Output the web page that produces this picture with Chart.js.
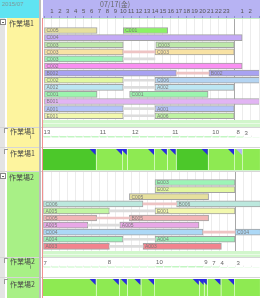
<!DOCTYPE html>
<html>
<head>
<meta charset="utf-8">
<script src="https://cdn.jsdelivr.net/npm/chart.js@4.4.0/dist/chart.umd.min.js"></script>
<style>
  html,body{margin:0;padding:0;background:#fff;}
  body{width:260px;height:298px;position:relative;overflow:hidden;font-family:"Noto Sans CJK JP","Noto Sans",sans-serif;}
  .abs{position:absolute;}
  canvas{position:absolute;}
  .lbl{position:absolute;left:9px;font-size:7px;line-height:8px;color:#4a4a4a;white-space:nowrap;}
  .box{position:absolute;left:0;width:4px;height:4px;border:1px solid #8a8a8a;background:#fff;}
  .box:after{content:"";position:absolute;left:1px;top:2px;width:2px;height:1px;background:#666;}
  .brk{position:absolute;left:4px;width:3px;height:4px;border-left:1px solid #999;border-top:1px solid #999;}
  .sep{position:absolute;left:0;width:260px;height:1px;background:#d6d6d6;}
</style>
</head>
<body>
<!-- panneau gauche -->
<div class="abs" style="left:0;top:0;width:39px;height:18px;background:#5fe4f2"></div>
<div class="abs" style="left:2px;top:0;font-size:6px;line-height:8px;color:#7d9a9a;font-family:'Liberation Sans'">2015/07</div>
<div class="abs" style="left:0;top:18px;width:5px;height:280px;background:#e4e4e4"></div>
<div class="abs" style="left:7px;top:18px;width:32px;height:153px;background:#fdf49e"></div>
<div class="abs" style="left:7px;top:172px;width:32px;height:126px;background:#a8f086"></div>

<div class="abs" style="left:43px;top:120px;width:217px;height:7px;background:#d2f6cc"></div>
<div class="abs" style="left:43px;top:123px;width:217px;height:1px;background:#eafbe6"></div>
<div class="abs" style="left:43px;top:170px;width:217px;height:2px;background:#d2f6cc"></div>
<div class="abs" style="left:43px;top:251px;width:217px;height:6px;background:#d2f6cc"></div>
<div class="abs" style="left:43px;top:254px;width:217px;height:1px;background:#eafbe6"></div>

<div class="sep" style="top:127px"></div>
<div class="sep" style="top:147px"></div>
<div class="sep" style="top:171px"></div>
<div class="sep" style="top:257px"></div>
<div class="sep" style="top:277px"></div>

<canvas id="g1" width="217" height="120" style="left:43px;top:0"></canvas>
<canvas id="ld1" width="230" height="17" style="left:30px;top:128px"></canvas>
<canvas id="sm1" width="217" height="21" style="left:43px;top:149px"></canvas>
<canvas id="g2" width="217" height="79" style="left:43px;top:172px"></canvas>
<canvas id="ld2" width="230" height="17" style="left:30px;top:258px"></canvas>
<canvas id="sm2" width="217" height="17" style="left:43px;top:279px"></canvas>

<div class="abs" style="left:100px;top:0;font-size:7px;line-height:8px;color:#666">07/17(金)</div>
<div class="abs" style="left:43px;top:18px;width:217px;height:1px;background:#c8eec8"></div>
<div class="abs" style="left:39px;top:0;width:2px;height:298px;background:#bdbdbd"></div>
<div class="abs" style="left:42px;top:18px;width:1px;height:280px;background:#f29090"></div>

<div class="box" style="top:19px"></div>
<div class="box" style="top:173px"></div>
<div class="brk" style="top:128px"></div>
<div class="brk" style="top:149px"></div>
<div class="brk" style="top:258px"></div>
<div class="brk" style="top:279px"></div>
<div class="lbl" style="top:19px">作業場1</div>
<div class="lbl" style="top:127px;left:10px">作業場1</div>
<div class="lbl" style="top:149px;left:10px">作業場1</div>
<div class="lbl" style="top:173px">作業場2</div>
<div class="lbl" style="top:257px;left:10px">作業場2</div>
<div class="lbl" style="top:280px;left:10px">作業場2</div>

<script>
// ===== Données =====
const HOUR_MAX = 27.125;
const hourLabels = ['0','1','2','3','4','5','6','7','8','9','10','11','12','13','14','15','16','17','18','19','20','21','22','23','24','25','26'];

// Atelier 1 : tâches
const g1Row   = [0,0,1,2,2,3,3,4,5,6,6,7,7,8,8,9,9,10,11,11,12,12];
const g1Start = [0,10,0,0,14.1,0,14,0,0,0,20.8,0,14,0,14,0,10.8,0,0,14,0,14];
const g1End   = [6.7,15.6,25,10,24,10,24,10,25,16.7,27.2,10,27.2,10,24,6.7,20.7,27.2,10,24,10,24];
const g1Name  = ['C005','C001','C004','C003','C003','C003','C003','C003','C002','B002','B002','C002','C006','A002','A002','C001','C001','B001','A001','A001','E001','A006'];
// Atelier 1 : liaisons
const g1LinkRow   = [3,4,6,7,8,11,12];
const g1LinkStart = [10,10,16.7,10,10,10,10];
const g1LinkEnd   = [14,14,20.8,14,14,14,14];

// Atelier 2 : tâches
const g2Row   = [0,1,2,3,3,4,4,5,5,6,6,7,7,8,8,9,9];
const g2Start = [14,14,10.8,0,16.7,0,14,0,10.8,0,9.6,0,24,0,14,0,12.5];
const g2End   = [24,24,20.7,12.5,27.2,8.3,24,6.7,20.7,5.6,19.5,20,27.2,10,24,8.3,22.3];
const g2Name  = ['E003','E002','C005','C006','B006','A005','E001','C005','B005','A005','A005','C004','C004','A004','A004','A003','A003'];
// Atelier 2 : liaisons
const g2LinkRow   = [3,4,5,6,7,8,9];
const g2LinkStart = [12.5,8.3,6.7,5.6,20,10,8.3];
const g2LinkEnd   = [16.7,14,10.8,9.6,24,14,12.5];

// charge par heure
const load1 = [13,13,13,13,13,13,13,11,11,11,11,12,12,12,12,12,11,11,11,11,11,10,10,10,8,3,3];
const load2 = [7,7,7,7,7,7,7,7,8,8,8,8,8,8,10,10,10,10,10,10,9,7,4,4,3,3,3];

// résumé (blocs)
const sm1Start = [0,6.7,10,10.6,14,15.6,16.7,20.7,24,25];
const sm1End   = [6.7,10,10.6,14,15.6,16.7,20.7,24,25,27.2];
const sm2Start = [0,6.7,9.6,10.6,12.3,14,19.6,20.2,20.6,22.3,24];
const sm2End   = [6.7,9.6,10.6,12.3,14,19.6,20.2,20.6,22.3,24,27.2];

// ===== Styles =====
const g1Color = ['#e6e09e','#8cf266','#c4aaf6','#bde8aa','#bde8aa','#f8e2a4','#f8e2a4','#9cf4b6','#fa90f2','#a8a2f2','#a8a2f2',
  '#e2f8a0','#b4d4f2','#bce6f2','#bce6f2','#9cf4ae','#9cf4ae','#e2b4f4','#b4c4fa','#b4c4fa','#f2f8ae','#bef2a2'];
const g2Color = ['#9cf4b6','#e2f8a0','#e6e09e','#bce8de','#bce8de','#c2f6a2','#f2f8ae','#f2b6b6','#f2b6b6','#e8a8e6','#e8a8e6',
  '#acd8f6','#acd8f6','#9cf2ba','#9cf2ba','#f2848e','#f2848e'];
const PINK = '#eec4c4', GREY = '#dcdcdc';
const g1LinkColor = [PINK,GREY,PINK,GREY,GREY,GREY,GREY];
const g2LinkColor = [PINK,GREY,PINK,GREY,PINK,GREY,GREY];
const LIGHT = '#8eea52', DARK = '#4cc82a', BLUE = '#2a2ae0', LAV = '#b4b4f2';
const sm1Color = [DARK,LIGHT,LIGHT,LIGHT,LIGHT,LIGHT,DARK,LIGHT,LIGHT,LIGHT];
const sm1Tri   = [BLUE,BLUE,BLUE,BLUE,BLUE,BLUE,BLUE,BLUE,LAV,null];
const sm2Color = [LIGHT,LIGHT,LIGHT,LIGHT,LIGHT,LIGHT,LIGHT,LIGHT,LIGHT,LIGHT,LIGHT];
const sm2Tri   = [BLUE,BLUE,BLUE,BLUE,BLUE,BLUE,BLUE,BLUE,BLUE,BLUE,null];

Chart.defaults.font.family = '"Liberation Sans", "DejaVu Sans", sans-serif';

// ===== Plugins =====
const headerBg = {
  id:'headerBg',
  beforeDraw(chart){
    const {ctx, chartArea} = chart;
    ctx.save();
    ctx.fillStyle = '#b7b3f3';
    ctx.fillRect(0, 0, chart.width, chartArea.top);
    ctx.restore();
  }
};

const barText = {
  id:'barText',
  afterDatasetsDraw(chart){
    const {ctx, chartArea:a} = chart;
    chart.data.datasets.forEach((ds, di) => {
      if(!ds.names) return;
      chart.getDatasetMeta(di).data.forEach((el, i) => {
        const left = Math.min(el.base, el.x);
        const w = Math.abs(el.x - el.base);
        ctx.save();
        ctx.beginPath();
        ctx.rect(left, a.top, w - 1, a.bottom - a.top);
        ctx.clip();
        ctx.font = '5px "Liberation Sans"';
        ctx.fillStyle = '#7a7a7a';
        ctx.textBaseline = 'middle';
        ctx.fillText(ds.names[i], left + 2, el.y + 0.5);
        ctx.restore();
      });
    });
  }
};

const triMarks = {
  id:'triMarks',
  afterDatasetsDraw(chart){
    const ctx = chart.ctx;
    const ds = chart.data.datasets[0];
    chart.getDatasetMeta(0).data.forEach((el, i) => {
      const c = ds.triColors[i];
      if(!c) return;
      const top = el.y - el.height / 2;
      const r = el.x - 1;
      ctx.save();
      ctx.fillStyle = c;
      ctx.beginPath();
      ctx.moveTo(r - 6, top);
      ctx.lineTo(r, top);
      ctx.lineTo(r, top + 6);
      ctx.closePath();
      ctx.fill();
      ctx.restore();
    });
  }
};

const loadText = {
  id:'loadText',
  afterDatasetsDraw(chart){
    const ctx = chart.ctx;
    const vals = chart.data.datasets[0].data;
    ctx.save();
    ctx.font = '6px "Liberation Sans"';
    ctx.fillStyle = '#666';
    ctx.textBaseline = 'bottom';
    chart.getDatasetMeta(0).data.forEach((el, i) => {
      if(i > 0 && vals[i] === vals[i-1]) return;
      ctx.fillText(String(vals[i]), el.x - el.width / 2, el.y - 1);
    });
    ctx.restore();
  }
};

const baseOpts = {
  responsive:false, animation:false, devicePixelRatio:1,
  layout:{padding:0},
  plugins:{legend:{display:false}, tooltip:{enabled:false}}
};

// ===== Gantt =====
function ganttChart(id, rows, starts, ends, names, colors, lRows, lStarts, lEnds, lColors, yMin, yMax, header){
  const tasks = rows.map((r, i) => ({x:[starts[i], ends[i]], y:r}));
  const links = lRows.map((r, i) => ({x:[lStarts[i], lEnds[i]], y:r}));
  return new Chart(document.getElementById(id), {
    type:'bar',
    data:{datasets:[
      {data:links, backgroundColor:lColors, borderWidth:0, barThickness:2, grouped:false},
      {data:tasks, names, backgroundColor:colors, borderColor:'#a2a2a2', borderWidth:1,
       borderSkipped:false, barThickness:6, grouped:false}
    ]},
    options:{
      ...baseOpts,
      indexAxis:'y',
      scales:{
        x:{
          type:'linear', position:'top', min:0, max:HOUR_MAX,
          afterFit:s => { s.height = header ? 18 : 0; },
          ticks:{
            display:header, stepSize:1, autoSkip:false, maxRotation:0, padding:1,
            font:{size:6}, color:'#555',
            callback:v => (Number.isInteger(v) && v % 24 !== 0 ? String(v % 24) : '')
          },
          grid:{
            color:c => (c.tick && c.tick.value === 24 ? '#a8a8a8' : '#ececec'),
            drawTicks:header, tickLength:header ? 2 : 0, tickColor:'#8c8ccc'
          },
          border:{display:false}
        },
        y:{type:'linear', reverse:true, offset:false, min:yMin, max:yMax, display:false}
      }
    },
    plugins: header ? [headerBg, barText] : [barText]
  });
}

// ===== Charge =====
function loadChart(id, values){
  return new Chart(document.getElementById(id), {
    type:'bar',
    data:{labels:hourLabels, datasets:[
      {data:values, backgroundColor:'#86ee86', barPercentage:0.86, categoryPercentage:1}
    ]},
    options:{
      ...baseOpts,
      scales:{
        x:{
          afterFit:s => { s.height = 0; },
          ticks:{display:false},
          grid:{color:'#eeeeee', drawTicks:false},
          border:{display:false}
        },
        y:{
          min:0, max:23,
          afterFit:s => { s.width = 13; },
          ticks:{stepSize:23, padding:4, font:{size:6}, color:'#555', callback:v => (v === 0 ? '0' : '')},
          grid:{display:false},
          border:{display:false}
        }
      }
    },
    plugins:[loadText]
  });
}

// ===== Résumé =====
function summaryChart(id, starts, ends, colors, tris, thick){
  return new Chart(document.getElementById(id), {
    type:'bar',
    data:{datasets:[{
      data:starts.map((s, i) => ({x:[s, ends[i]], y:0})),
      backgroundColor:colors, borderColor:'#eaffe0',
      borderWidth:{left:0, right:1, top:0, bottom:0}, borderSkipped:false,
      barThickness:thick, triColors:tris
    }]},
    options:{
      ...baseOpts,
      indexAxis:'y',
      scales:{
        x:{type:'linear', min:0, max:HOUR_MAX, display:false},
        y:{type:'linear', offset:false, min:-0.5, max:0.5, display:false}
      }
    },
    plugins:[triMarks]
  });
}

ganttChart('g1', g1Row, g1Start, g1End, g1Name, g1Color, g1LinkRow, g1LinkStart, g1LinkEnd, g1LinkColor, -1.76, 12.6, true);
loadChart('ld1', load1);
summaryChart('sm1', sm1Start, sm1End, sm1Color, sm1Tri, 21);
ganttChart('g2', g2Row, g2Start, g2End, g2Name, g2Color, g2LinkRow, g2LinkStart, g2LinkEnd, g2LinkColor, -1.48, 9.65, false);
loadChart('ld2', load2);
summaryChart('sm2', sm2Start, sm2End, sm2Color, sm2Tri, 17);
</script>
</body>
</html>
